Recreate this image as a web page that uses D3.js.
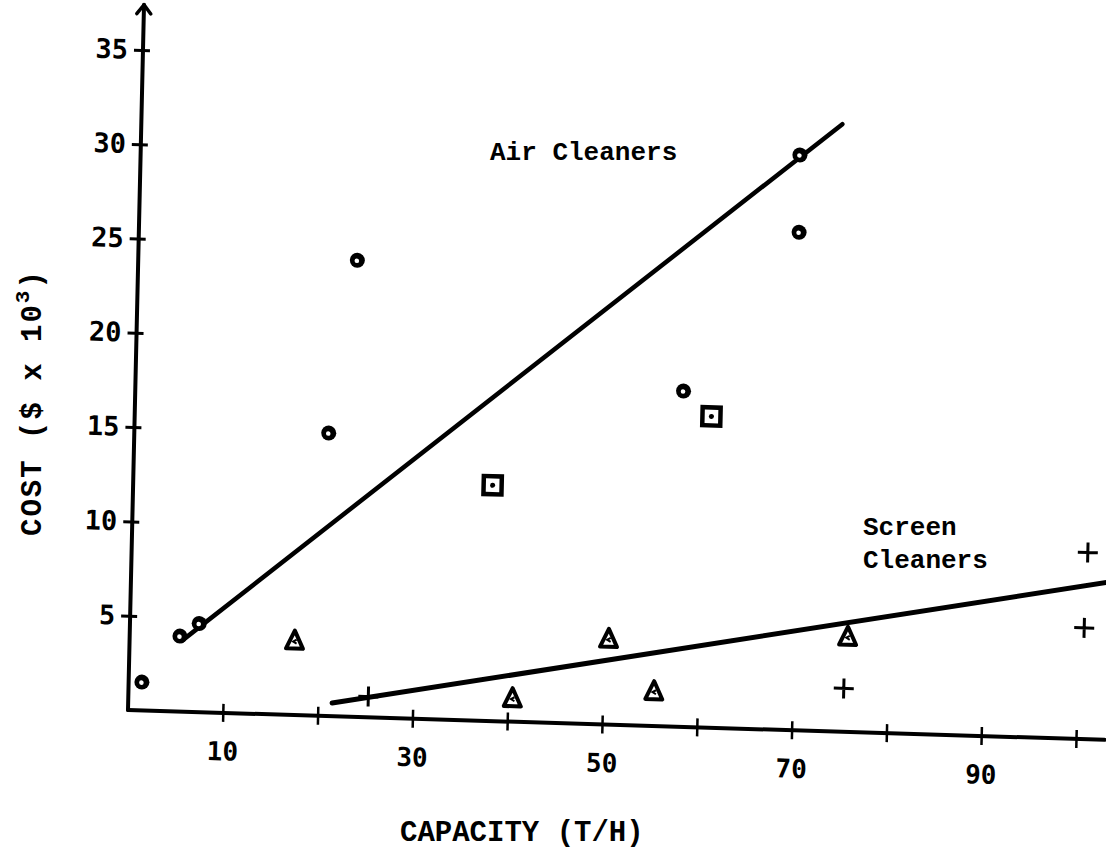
<!DOCTYPE html>
<html>
<head>
<meta charset="utf-8">
<script src="https://cdn.jsdelivr.net/npm/d3@7"></script>
<style>
  body { margin: 0; background: #fff; }
  svg { display: block; }
</style>
</head>
<body>
<svg id="chart" width="1106" height="857"></svg>
<script>
// Axis ticks
const xTicks = [10, 20, 30, 40, 50, 60, 70, 80, 90, 100];
const xTickLabels = [10, 30, 50, 70, 90];
const yTicks = [5, 10, 15, 20, 25, 30, 35];
const xAxisExtent = [0, 103];
const yAxisExtent = [0, 37.4];

// Air cleaners: circles and squares (capacity T/H, cost $ x 10^3)
const airCircleX = [1.4, 5.3, 7.3, 20.5, 23.1, 57.8, 69.5, 69.6];
const airCircleY = [1.5, 4.0, 4.7, 15.0, 24.2, 17.8, 30.5, 26.4];
const airSquareX = [37.9, 60.8];
const airSquareY = [12.5, 16.5];

// Screen cleaners: triangles and crosses
const screenTriX = [17.4, 40.5, 50.5, 55.4, 75.7];
const screenTriY = [4.0, 1.3, 4.6, 1.9, 5.1];
const screenCrossX = [25.3, 75.4, 100.6, 100.8];
const screenCrossY = [1.1, 2.3, 5.9, 9.9];

// Fitted trend lines
const airFitX = [5.5, 73.9];
const airFitY = [3.75, 32.2];
const screenFitX = [21.5, 104];
const screenFitY = [0.7, 8.45];

const svg = d3.select("#chart");
const ink = "#000";

const x = d3.scaleLinear().domain([0, 100]).range([0, 948]);
const y = d3.scaleLinear().domain([0, 35]).range([0, -660]);

// plot frame, slightly skewed as on the printed page
const g = svg.append("g")
  .attr("transform", "matrix(1,0.0305,-0.0227,1,128,710)");

// axis lines
g.append("line")
  .attr("x1", x(xAxisExtent[0])).attr("x2", x(xAxisExtent[1]))
  .attr("y1", 0).attr("y2", 0)
  .attr("stroke", ink).attr("stroke-width", 4).attr("stroke-linecap", "round");
g.append("line")
  .attr("x1", 0).attr("x2", 0)
  .attr("y1", y(yAxisExtent[0])).attr("y2", y(yAxisExtent[1]))
  .attr("stroke", ink).attr("stroke-width", 4).attr("stroke-linecap", "round");
// arrow head on the cost axis
g.append("path")
  .attr("d", d3.line()([[-7, y(yAxisExtent[1]) + 9], [0, y(yAxisExtent[1])], [7, y(yAxisExtent[1]) + 9]]))
  .attr("fill", "none").attr("stroke", ink).attr("stroke-width", 3.5)
  .attr("stroke-linecap", "round").attr("stroke-linejoin", "round");

const tickFont = "'DejaVu Sans Mono', monospace";

// x axis ticks and labels
const xAxis = d3.axisBottom(x)
  .tickValues(xTicks)
  .tickSize(8)
  .tickPadding(21)
  .tickFormat(d => xTickLabels.includes(d) ? d : "");
const xa = g.append("g").call(xAxis);
xa.select(".domain").remove();
xa.selectAll(".tick line").attr("y1", -9).attr("y2", 9)
  .attr("stroke", ink).attr("stroke-width", 2.5);
xa.selectAll(".tick text")
  .attr("fill", ink)
  .style("font-family", tickFont)
  .style("font-size", "26px")
  .style("font-weight", "bold")
  .attr("dy", "0.71em");

// y axis ticks and labels
const yAxis = d3.axisLeft(y)
  .tickValues(yTicks)
  .tickSize(9)
  .tickPadding(6);
const ya = g.append("g").call(yAxis);
ya.select(".domain").remove();
ya.selectAll(".tick line").attr("x1", -9).attr("x2", 7)
  .attr("stroke", ink).attr("stroke-width", 3);
ya.selectAll(".tick text")
  .attr("fill", ink)
  .style("font-family", tickFont)
  .style("font-size", "27px")
  .style("font-weight", "bold");

// trend lines
const line = d3.line().x(d => x(d[0])).y(d => y(d[1]));
g.append("path")
  .attr("d", line(d3.zip(airFitX, airFitY)))
  .attr("stroke", ink).attr("stroke-width", 4.5).attr("fill", "none")
  .attr("stroke-linecap", "round");
g.append("path")
  .attr("d", line(d3.zip(screenFitX, screenFitY)))
  .attr("stroke", ink).attr("stroke-width", 5).attr("fill", "none")
  .attr("stroke-linecap", "round");

// circle markers: heavy rings with a small light centre
const ci = g.selectAll(".air-circle")
  .data(d3.zip(airCircleX, airCircleY))
  .join("g")
  .attr("class", "air-circle")
  .attr("transform", d => `translate(${x(d[0])},${y(d[1])})`);
ci.append("circle").attr("r", 7.5).attr("fill", ink);
ci.append("circle").attr("cx", -0.5).attr("cy", 0.5).attr("r", 2.3).attr("fill", "#fff");

// square markers with centre dot
const sq = g.selectAll(".air-square")
  .data(d3.zip(airSquareX, airSquareY))
  .join("g")
  .attr("class", "air-square")
  .attr("transform", d => `translate(${x(d[0])},${y(d[1])})`);
sq.append("rect")
  .attr("x", -9).attr("y", -9).attr("width", 18).attr("height", 18)
  .attr("fill", "#fff").attr("stroke", ink).attr("stroke-width", 4.5);
sq.append("circle").attr("r", 2.5).attr("fill", ink);

// triangle markers
const tri = g.selectAll(".screen-tri")
  .data(d3.zip(screenTriX, screenTriY))
  .join("g")
  .attr("class", "screen-tri")
  .attr("transform", d => `translate(${x(d[0])},${y(d[1])})`);
tri.append("path")
  .attr("d", "M0,-9 L8.5,9 L-8.5,9 Z")
  .attr("fill", "#fff").attr("stroke", ink).attr("stroke-width", 4)
  .attr("stroke-linejoin", "round");
tri.append("path")
  .attr("d", "M2,0 L-1.5,2 L2,4")
  .attr("fill", "none").attr("stroke", ink).attr("stroke-width", 2);

// cross markers
const cr = g.selectAll(".screen-cross")
  .data(d3.zip(screenCrossX, screenCrossY))
  .join("g")
  .attr("class", "screen-cross")
  .attr("transform", d => `translate(${x(d[0])},${y(d[1])})`);
cr.append("path")
  .attr("d", "M-10,0 H10 M0,-10 V10")
  .attr("stroke", ink).attr("stroke-width", 3).attr("fill", "none");

// annotations and titles
const mono = "'Liberation Mono', 'Courier New', monospace";
svg.append("text")
  .attr("x", 490).attr("y", 160)
  .style("font-family", mono).style("font-size", "26px").style("font-weight", "bold")
  .attr("fill", ink)
  .text("Air Cleaners");
const sc = svg.append("text")
  .style("font-family", mono).style("font-size", "26px").style("font-weight", "bold")
  .attr("fill", ink);
sc.append("tspan").attr("x", 863).attr("y", 535).text("Screen");
sc.append("tspan").attr("x", 863).attr("y", 568).text("Cleaners");

svg.append("text")
  .attr("x", 400).attr("y", 841)
  .style("font-family", mono).style("font-size", "29px").style("font-weight", "bold")
  .attr("fill", ink)
  .text("CAPACITY (T/H)");

const yt = svg.append("text")
  .attr("transform", "translate(41,536) rotate(-90)")
  .style("font-family", mono).style("font-size", "29px").style("font-weight", "bold")
  .style("letter-spacing", "2px")
  .attr("fill", ink);
yt.append("tspan").text("COST ($ x 10");
yt.append("tspan").attr("dy", -12).style("font-size", "21px").text("3");
yt.append("tspan").attr("dy", 12).text(")");
</script>
</body>
</html>
